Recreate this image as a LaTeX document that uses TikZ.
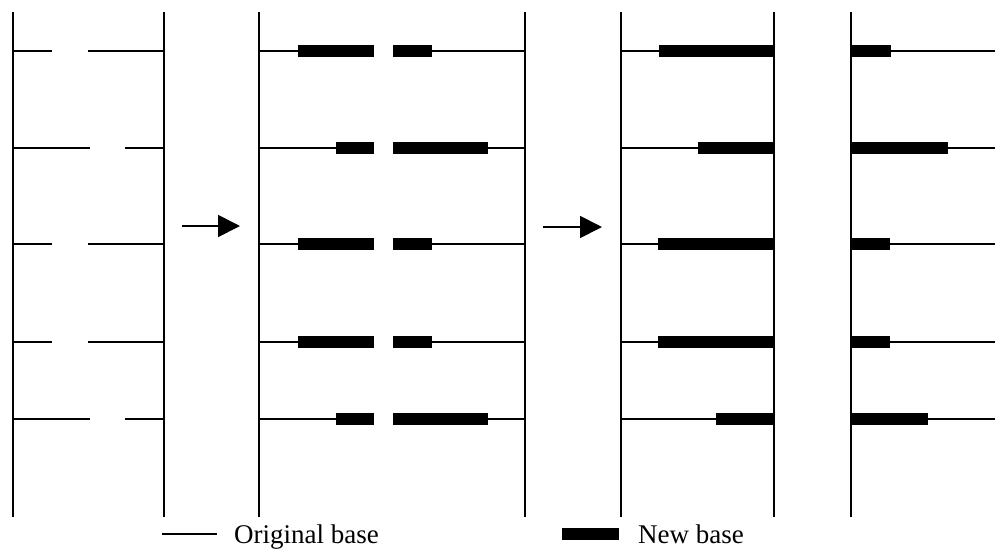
\documentclass[tikz,border=0pt]{standalone}
\usepackage{fontspec}
\setmainfont{Liberation Serif}
\usetikzlibrary{arrows.meta}
\begin{document}
\begin{tikzpicture}[x=1pt,y=-1pt,
  rail/.style={line width=2.2pt},
  thin/.style={line width=1.8pt},
  newb/.style={fill=black},
  go/.style={line width=1.8pt,-{Triangle[length=22pt,width=22pt]}},
  legend/.style={anchor=base west,inner sep=0pt,font=\fontsize{27}{32}\selectfont}]
\useasboundingbox (0,0) rectangle (995,555);
% vertical rails
\foreach \x in {13,164,259,525,621,774,851}
  \draw[rail] (\x,12) -- (\x,517);
% panel 1: original bases
\foreach \y in {51,244,342}{
  \draw[thin] (13,\y) -- (52,\y);
  \draw[thin] (88,\y) -- (164,\y);}
\foreach \y in {148,419}{
  \draw[thin] (13,\y) -- (90,\y);
  \draw[thin] (125,\y) -- (164,\y);}
% panel 2
\foreach \y in {51,244,342}{
  \draw[thin] (259,\y) -- (298,\y);
  \draw[thin] (432,\y) -- (525,\y);
  \fill[newb] (298,\y-6) rectangle (374,\y+6);
  \fill[newb] (393,\y-6) rectangle (432,\y+6);}
\foreach \y in {148,419}{
  \draw[thin] (259,\y) -- (336,\y);
  \draw[thin] (488,\y) -- (525,\y);
  \fill[newb] (336,\y-6) rectangle (374,\y+6);
  \fill[newb] (393,\y-6) rectangle (488,\y+6);}
% panel 3
\foreach \y/\s in {51/659,148/698,244/658,342/658,419/716}{
  \draw[thin] (621,\y) -- (\s,\y);
  \fill[newb] (\s,\y-6) rectangle (774,\y+6);}
% panel 4
\foreach \y/\e in {51/891,148/948,244/890,342/890,419/928}{
  \fill[newb] (851,\y-6) rectangle (\e,\y+6);
  \draw[thin] (\e,\y) -- (995,\y);}
% arrows
\coordinate (a1s) at (182,226);
\coordinate (a1e) at (240,226);
\coordinate (a2s) at (543,227);
\coordinate (a2e) at (602,227);
\draw[go] (a1s) -- (a1e);
\draw[go] (a2s) -- (a2e);
% legend
\coordinate (l1s) at (162,534);
\coordinate (l1e) at (217,534);
\draw[thin] (l1s) -- (l1e);
\node[legend] (orig) at (234,543) {Original base};
\fill[newb] (562,528) rectangle (619,540);
\node[legend] (newl) at (638,543) {New base};
\end{tikzpicture}
\end{document}
